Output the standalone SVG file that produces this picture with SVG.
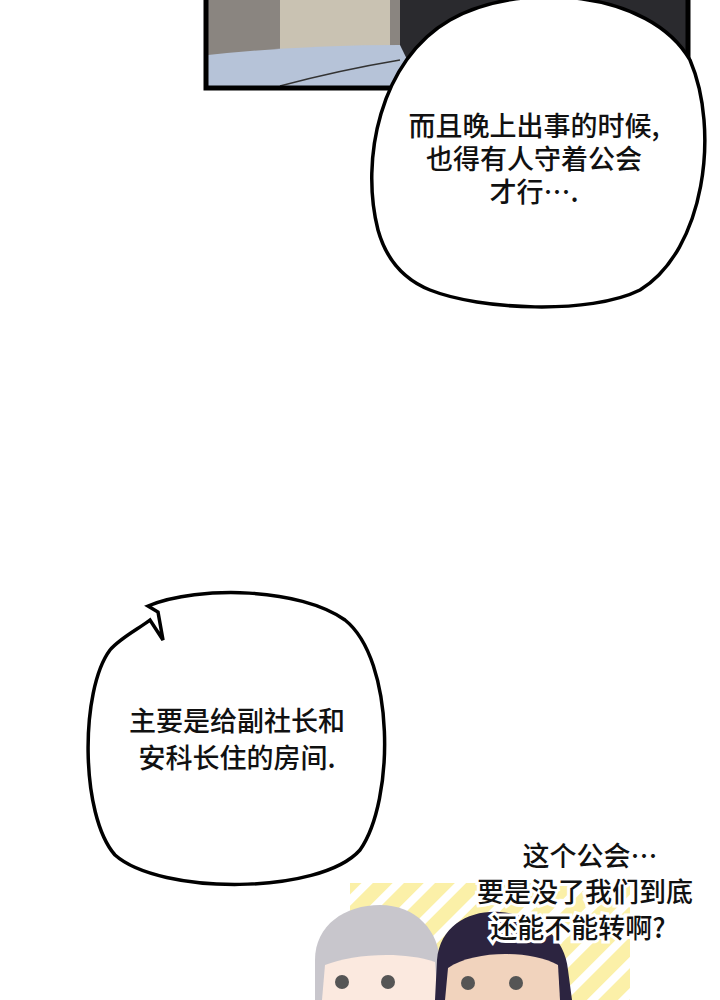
<svg xmlns="http://www.w3.org/2000/svg" width="720" height="1000" viewBox="0 0 720 1000">
<defs>
<style>
.t{font-family:"Noto Sans CJK SC","Noto Sans",sans-serif;font-size:27px;font-weight:500;fill:#111;text-anchor:middle}
.h{font-family:"Noto Sans CJK SC",sans-serif;font-size:27px;font-weight:500;fill:#111;text-anchor:middle;stroke:#fff;stroke-width:6px;paint-order:stroke}
.b{fill:#fff;stroke:#000;stroke-width:3.5}
</style>
<pattern id="st" width="22" height="22" patternUnits="userSpaceOnUse" patternTransform="rotate(45)">
<rect width="22" height="22" fill="#fbf0a8"/><rect width="8" height="22" fill="#fff"/>
</pattern>
<clipPath id="pc"><rect x="208" y="0" width="478" height="86"/></clipPath>
</defs>
<rect width="720" height="1000" fill="#fff"/>
<g id="panel">
<g clip-path="url(#pc)">
<rect x="208" y="0" width="478" height="86" fill="#8a8580"/>
<rect x="280" y="0" width="110" height="55" fill="#c9c2b2"/>
<rect x="400" y="0" width="286" height="86" fill="#2a2a2e"/>
<path d="M208 55 Q300 45 400 45 L420 86 L208 86Z" fill="#b6c3d8"/>
<path d="M280 86 Q340 70 400 60" fill="none" stroke="#333" stroke-width="1.5"/>
</g>
<rect x="206" y="-5" width="482" height="93" fill="none" stroke="#000" stroke-width="5"/>
</g>
<g id="bubble1">
<path class="b" d="M378 230 C360 160 380 60 450 20 C520 -20 650 -10 690 60 C720 130 705 250 640 290 C590 315 480 310 430 290 C400 278 385 255 378 230Z"/>
<text class="t" x="534" y="136">而且晚上出事的时候,</text>
<text class="t" x="534" y="169">也得有人守着公会</text>
<text class="t" x="534" y="202">才行….</text>
</g>
<g id="bubble2">
<path class="b" d="M148 606 C200 585 300 588 345 620 C395 660 395 800 360 850 C320 895 160 895 115 855 C80 815 80 690 110 650 C120 638 140 628 150 620 L163 640 L158 612Z"/>
<text class="t" x="237" y="731">主要是给副社长和</text>
<text class="t" x="237" y="768">安科长住的房间.</text>
</g>
<g id="scene">
<rect x="350" y="883" width="280" height="117" fill="url(#st)"/>
<path d="M315 1000 L315 960 C315 925 345 905 380 905 C415 905 440 930 440 965 L440 1000Z" fill="#c8c6cc"/>
<path d="M322 1000 L325 965 C350 955 400 950 435 962 L438 1000Z" fill="#fbe9df"/>
<path d="M435 1000 L437 960 C440 925 470 910 500 912 C535 915 565 935 568 970 L572 1000Z" fill="#2c2440"/>
<path d="M445 1000 L448 968 C475 950 530 950 558 965 L560 1000Z" fill="#f1d3bd"/>
<circle cx="342" cy="982" r="7" fill="#555"/><circle cx="388" cy="982" r="7" fill="#555"/>
<circle cx="468" cy="983" r="7" fill="#555"/><circle cx="516" cy="983" r="7" fill="#555"/>
</g>
<g id="shout">
<text class="h" x="590" y="866">这个公会…</text>
<text class="h" x="585" y="902">要是没了我们到底</text>
<text class="h" x="578" y="938">还能不能转啊?</text>
</g>
</svg>
